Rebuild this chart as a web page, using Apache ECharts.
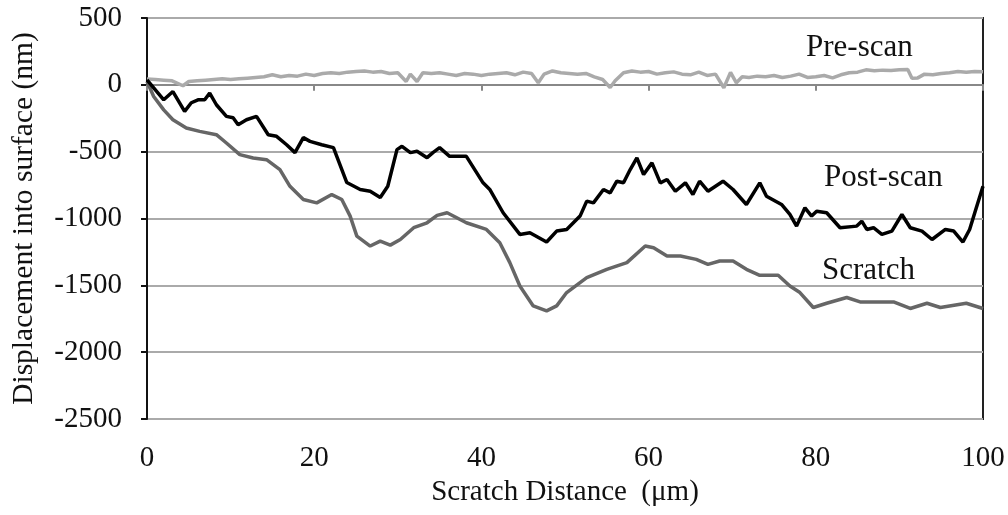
<!DOCTYPE html>
<html><head><meta charset="utf-8">
<script src="https://cdn.jsdelivr.net/npm/echarts@6/dist/echarts.min.js"></script>
<style>html,body{margin:0;padding:0;background:#fff}#c{width:1008px;height:515px}</style>
</head><body><div id="c"></div>
<script>
const preScan = [[0,43],[1,40],[2,35],[3,30],[4.3,-7],[5,25],[6,30],[7,35],[8,40],[9,45],[10,40],[11,45],[12,50],[13,55],[14,60],[15,75],[16,60],[17,70],[18,65],[19,80],[20,70],[21,85],[22,90],[23,85],[24,95],[25,100],[26,104],[27,95],[28,100],[29,85],[30,90],[31,25],[31.5,80],[32.3,25],[33,90],[34,85],[35,90],[36,80],[37,70],[38,85],[39,80],[40,70],[41,80],[42,85],[43,90],[44,75],[45,95],[46,85],[46.8,15],[47.5,80],[48.5,104],[49.5,90],[50.5,85],[51.5,80],[52.5,85],[53.5,60],[54.5,40],[55.4,-20],[56,30],[57,90],[58,104],[59,95],[60,100],[61,80],[62,90],[63,97],[64,80],[65,75],[66,95],[67,70],[68,80],[69,-22],[69.8,93],[70.5,15],[71.2,60],[72,55],[73,65],[74,60],[75,70],[76,55],[77,65],[78,80],[79,55],[80,60],[81,70],[82,52],[83,75],[84,90],[85,95],[86,112],[87,105],[88,110],[89,108],[90,112],[91,115],[91.5,50],[92.2,52],[93,80],[94,75],[95,85],[96,90],[97,100],[98,95],[99,100],[100,97]];
const postScan = [[0,37],[2,-112],[3.1,-50],[4.5,-199],[5.3,-134],[6.1,-112],[6.9,-112],[7.5,-62],[8.3,-149],[9.5,-236],[10.3,-246],[10.9,-298],[11.9,-261],[13.1,-236],[14.5,-373],[15.5,-385],[16.7,-448],[17.7,-507],[18.7,-395],[19.5,-423],[20.9,-448],[22.3,-470],[23.9,-731],[25.5,-783],[26.7,-796],[27.9,-843],[28.8,-759],[29.9,-485],[30.5,-460],[31.5,-507],[32.3,-497],[33.5,-545],[34.2,-507],[35,-470],[36.2,-535],[38.2,-535],[40.2,-733],[41,-783],[42.6,-957],[44.6,-1119],[45.8,-1107],[47.8,-1176],[49,-1094],[50.2,-1082],[51.8,-982],[52.6,-870],[53.4,-883],[54.6,-783],[55.4,-808],[56.2,-721],[57,-733],[57.8,-634],[58.6,-547],[59.4,-671],[60.4,-584],[61.4,-733],[62.2,-708],[63.2,-796],[64.4,-733],[65.3,-820],[66.1,-721],[67.1,-796],[68.9,-721],[70.1,-783],[71.7,-895],[73.3,-733],[74.1,-833],[75.9,-895],[76.9,-970],[77.7,-1057],[78.7,-920],[79.5,-982],[80.1,-945],[81.3,-957],[82.9,-1069],[84.9,-1057],[85.5,-1020],[86.1,-1082],[86.9,-1069],[87.9,-1119],[89.1,-1094],[90.3,-970],[91.3,-1069],[92.7,-1094],[93.9,-1157],[95.5,-1082],[96.5,-1094],[97.6,-1176],[98.4,-1082],[99.2,-920],[100,-759]];
const scratch = [[0,25],[0.8,-87],[2,-187],[3.1,-261],[4.7,-323],[6.3,-348],[8.3,-373],[9.5,-435],[11.1,-522],[12.7,-547],[14.3,-560],[15.9,-634],[17.1,-759],[18.7,-858],[20.3,-883],[22.1,-821],[23.3,-858],[24.3,-982],[25.1,-1132],[26.7,-1206],[27.9,-1169],[29.1,-1199],[30.3,-1157],[31.9,-1069],[33.5,-1032],[34.7,-977],[35.9,-957],[38.2,-1032],[40.6,-1082],[42.2,-1181],[43.4,-1330],[44.6,-1505],[46.2,-1654],[47.8,-1691],[49,-1654],[50.2,-1554],[52.6,-1442],[55,-1380],[57.4,-1330],[59.6,-1206],[60.6,-1219],[62.2,-1281],[63.8,-1281],[65.7,-1306],[67.1,-1343],[68.5,-1318],[70.1,-1318],[71.7,-1380],[73.3,-1425],[75.5,-1425],[76.9,-1505],[78.1,-1554],[79.7,-1666],[81.3,-1634],[83.7,-1591],[85.3,-1624],[89.3,-1624],[91.3,-1673],[93.3,-1634],[94.9,-1666],[98,-1634],[100,-1673]];
const seriesNames = ['Pre-scan','Post-scan','Scratch'];
const xTitle = 'Scratch Distance  (\u03bcm)';
const yTitle = 'Displacement into surface (nm)';

const chart = echarts.init(document.getElementById('c'));
const font = 'Liberation Serif';
const fmt = v => String(v);
chart.setOption({
  animation: false,
  grid: {left:147, right:25, top:18, bottom:96, show:true, borderColor:'#222', borderWidth:2},
  xAxis: {type:'value', min:0, max:100, interval:20,
    name:xTitle, nameLocation:'middle', nameGap:51,
    nameTextStyle:{fontFamily:font, fontSize:29, color:'#111', verticalAlign:'top'},
    axisLine:{show:true, lineStyle:{color:'#888', width:2}},
    axisTick:{show:true, length:6, lineStyle:{color:'#888', width:2}},
    axisLabel:{fontFamily:font, fontSize:29, color:'#111', margin:25, formatter:fmt},
    splitLine:{show:false}},
  yAxis: {type:'value', min:-2500, max:500, interval:500,
    name:yTitle, nameLocation:'middle', nameGap:108,
    nameTextStyle:{fontFamily:font, fontSize:29.5, color:'#111'},
    axisLine:{show:true, onZero:false, lineStyle:{color:'#111', width:2}},
    axisTick:{show:true, length:6, lineStyle:{color:'#111', width:2}},
    axisLabel:{fontFamily:font, fontSize:29, color:'#111', margin:25, formatter:fmt},
    splitLine:{show:true, lineStyle:{color:'#aaa', width:2}}},
  series: [
    {name:seriesNames[0], type:'line', data:preScan, showSymbol:false, lineStyle:{color:'#aaa', width:3.5}},
    {name:seriesNames[1], type:'line', data:postScan, showSymbol:false, lineStyle:{color:'#000', width:3.5}, z:4},
    {name:seriesNames[2], type:'line', data:scratch, showSymbol:false, lineStyle:{color:'#666', width:3.5}, z:3}
  ],
  graphic: [
    {type:'text', left:806, top:32, style:{text:seriesNames[0], font:'31px "Liberation Serif"', fill:'#111'}},
    {type:'text', left:824, top:162, style:{text:seriesNames[1], font:'31px "Liberation Serif"', fill:'#111'}},
    {type:'text', left:822, top:255, style:{text:seriesNames[2], font:'31px "Liberation Serif"', fill:'#111'}}
  ]
});
</script></body></html>
